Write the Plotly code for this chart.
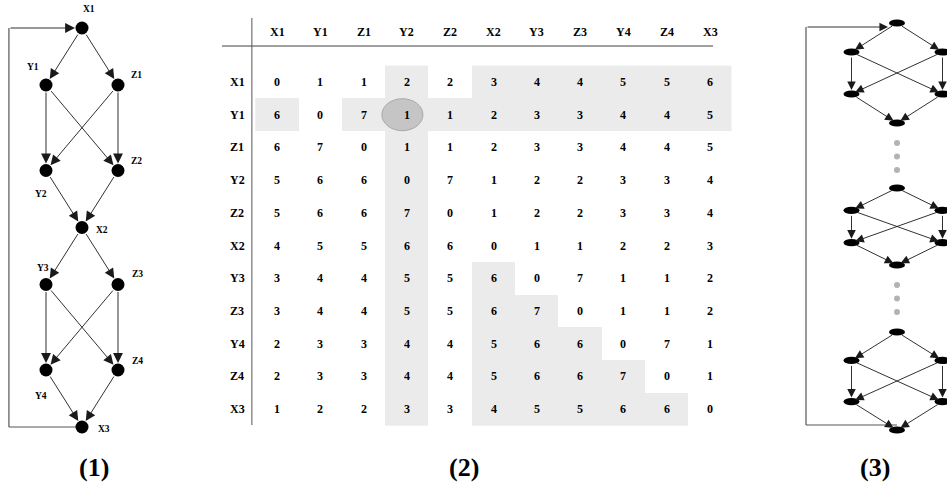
import plotly.graph_objects as go

W, H = 947, 496
SERIF = "Liberation Serif"

# ---------------- panel (1): labelled lattice with feedback loop ----------------
g1_names = ["X1", "Y1", "Z1", "Y2", "Z2", "X2", "Y3", "Z3", "Y4", "Z4", "X3"]
g1_lane = [0, -1, 1, -1, 1, 0, -1, 1, -1, 1, 0]
g1_depth = [0, 1, 1, 2.5, 2.5, 3.5, 4.5, 4.5, 6, 6, 7]
g1_edges = [("X1", "Y1"), ("X1", "Z1"), ("Y1", "Y2"), ("Y1", "Z2"), ("Z1", "Y2"), ("Z1", "Z2"),
            ("Y2", "X2"), ("Z2", "X2"), ("X2", "Y3"), ("X2", "Z3"), ("Y3", "Y4"), ("Y3", "Z4"),
            ("Z3", "Y4"), ("Z3", "Z4"), ("Y4", "X3"), ("Z4", "X3")]
# label offsets (px) relative to each node
g1_label_dx = [7, -13, 18, -5, 18, 20, -3, 19, -5, 19, 22]
g1_label_dy = [-19, -18, -10, 23, -10, 2, -17, -11, 26, -9, 2]

# ---------------- panel (2): distance matrix ----------------
nodes = ["X1", "Y1", "Z1", "Y2", "Z2", "X2", "Y3", "Z3", "Y4", "Z4", "X3"]
dist = [
    [0, 1, 1, 2, 2, 3, 4, 4, 5, 5, 6],
    [6, 0, 7, 1, 1, 2, 3, 3, 4, 4, 5],
    [6, 7, 0, 1, 1, 2, 3, 3, 4, 4, 5],
    [5, 6, 6, 0, 7, 1, 2, 2, 3, 3, 4],
    [5, 6, 6, 7, 0, 1, 2, 2, 3, 3, 4],
    [4, 5, 5, 6, 6, 0, 1, 1, 2, 2, 3],
    [3, 4, 4, 5, 5, 6, 0, 7, 1, 1, 2],
    [3, 4, 4, 5, 5, 6, 7, 0, 1, 1, 2],
    [2, 3, 3, 4, 4, 5, 6, 6, 0, 7, 1],
    [2, 3, 3, 4, 4, 5, 6, 6, 7, 0, 1],
    [1, 2, 2, 3, 3, 4, 5, 5, 6, 6, 0],
]
shaded = [
    [0, 0, 0, 1, 0, 1, 1, 1, 1, 1, 1],
    [1, 0, 1, 1, 1, 1, 1, 1, 1, 1, 1],
    [0, 0, 0, 1, 0, 0, 0, 0, 0, 0, 0],
    [0, 0, 0, 1, 0, 0, 0, 0, 0, 0, 0],
    [0, 0, 0, 1, 0, 0, 0, 0, 0, 0, 0],
    [0, 0, 0, 1, 0, 0, 0, 0, 0, 0, 0],
    [0, 0, 0, 1, 0, 1, 0, 0, 0, 0, 0],
    [0, 0, 0, 1, 0, 1, 1, 0, 0, 0, 0],
    [0, 0, 0, 1, 0, 1, 1, 1, 0, 0, 0],
    [0, 0, 0, 1, 0, 1, 1, 1, 1, 0, 0],
    [0, 0, 0, 1, 0, 1, 1, 1, 1, 1, 0],
]
highlight = ("Y1", "Y2")  # (row, column)

# ---------------- panel (3): generic stacked lattice ----------------
blk_lane = [0, -1, 1, -1, 1, 0]
blk_frac = [0, 0.29, 0.29, 0.71, 0.71, 1.0]
blk_edges = [(0, 1), (0, 2), (1, 3), (1, 4), (2, 3), (2, 4), (3, 5), (4, 5)]
blk_start = [0.0, 1.65, 3.09]
blk_height = [1.0, 0.77, 0.98]
gap_dots = [0.2, 0.335, 0.47]

captions = ["(1)", "(2)", "(3)"]


def span(origin_px, unit_px, total_px, reverse=False):
    r = [-origin_px / unit_px, (total_px - origin_px) / unit_px]
    return r[::-1] if reverse else r


fig = go.Figure()
shapes, annots = [], []
EDGE = "#1a1a1a"
LOOP = "#555555"

# ---- panel 1 ----
pos1 = {n: (l, d) for n, l, d in zip(g1_names, g1_lane, g1_depth)}
fig.add_trace(go.Scatter(x=g1_lane, y=g1_depth, mode="markers", xaxis="x", yaxis="y",
                         marker=dict(size=13, color="black", line=dict(width=0)),
                         hoverinfo="skip", showlegend=False))
for a, b in g1_edges:
    (xa, ya), (xb, yb) = pos1[a], pos1[b]
    annots.append(dict(x=xb, y=yb, ax=xa, ay=ya, xref="x", yref="y", axref="x", ayref="y",
                       text="", showarrow=True, arrowhead=2, arrowsize=2.2, arrowwidth=0.9,
                       arrowcolor=EDGE, standoff=7, startstandoff=6))
for n, dx, dy in zip(g1_names, g1_label_dx, g1_label_dy):
    l, d = pos1[n]
    annots.append(dict(x=l, y=d, xref="x", yref="y", text=f"<b>{n}</b>", showarrow=False,
                       xshift=dx, yshift=-dy, font=dict(family=SERIF, size=9.5, color="black")))
loop1 = -2.03
top1, bot1 = pos1["X1"], pos1["X3"]
shapes.append(dict(type="line", xref="x", yref="y", x0=bot1[0], y0=bot1[1], x1=loop1, y1=bot1[1],
                   line=dict(color=LOOP, width=1.2), layer="below"))
shapes.append(dict(type="line", xref="x", yref="y", x0=loop1, y0=bot1[1], x1=loop1, y1=top1[1],
                   line=dict(color=LOOP, width=1.2), layer="below"))
annots.append(dict(x=top1[0], y=top1[1], ax=loop1, ay=top1[1], xref="x", yref="y", axref="x",
                   ayref="y", text="", showarrow=True, arrowhead=2, arrowsize=2.2, arrowwidth=0.9,
                   arrowcolor=EDGE, standoff=7))

# ---- panel 2 ----
n = len(nodes)
fig.add_trace(go.Heatmap(z=shaded, x=list(range(n)), y=list(range(n)), xaxis="x2", yaxis="y2",
                         colorscale=[[0, "rgba(255,255,255,0)"], [1, "#ebebeb"]], zmin=0, zmax=1,
                         showscale=False, hoverinfo="skip"))
CELL_FONT = dict(family=SERIF, size=12, color="black")
for i in range(n):
    for j in range(n):
        annots.append(dict(x=j, y=i, xref="x2", yref="y2", text=f"<b>{dist[i][j]}</b>",
                           showarrow=False, font=CELL_FONT))
for j, c in enumerate(nodes):
    annots.append(dict(x=j, y=-1.53, xref="x2", yref="y2", text=f"<b>{c}</b>", showarrow=False,
                       font=CELL_FONT))
for i, r in enumerate(nodes):
    annots.append(dict(x=-0.92, y=i, xref="x2", yref="y2", text=f"<b>{r}</b>", showarrow=False,
                       font=CELL_FONT))
hr, hc = nodes.index(highlight[0]), nodes.index(highlight[1])
shapes.append(dict(type="circle", xref="x2", yref="y2", xsizemode="pixel", ysizemode="pixel",
                   xanchor=hc, yanchor=hr, x0=-25, x1=16, y0=-16, y1=16,
                   fillcolor="#c5c5c5", line=dict(color="#a8a8a8", width=1), layer="above"))
shapes.append(dict(type="line", xref="x2", yref="y2", x0=-1.27, x1=10.07, y0=-1.1, y1=-1.1,
                   line=dict(color="#444444", width=1)))
shapes.append(dict(type="line", xref="x2", yref="y2", x0=-0.58, x1=-0.58, y0=-1.96, y1=10.49,
                   line=dict(color="#555555", width=1)))

# ---- panel 3 ----
dot_y = []
tops, bottoms = [], []
for b, (s, h) in enumerate(zip(blk_start, blk_height)):
    ys = [s + f * h for f in blk_frac]
    tops.append(ys[0])
    bottoms.append(ys[-1])
    for p, q in blk_edges:
        annots.append(dict(x=blk_lane[q], y=ys[q], ax=blk_lane[p], ay=ys[p], xref="x3", yref="y3",
                           axref="x3", ayref="y3", text="", showarrow=True, arrowhead=2,
                           arrowsize=1.9, arrowwidth=0.9, arrowcolor=EDGE, standoff=4,
                           startstandoff=4))
    for l, y in zip(blk_lane, ys):
        shapes.append(dict(type="circle", xref="x3", yref="y3", xsizemode="pixel",
                           ysizemode="pixel", xanchor=l, yanchor=y, x0=-8, x1=8, y0=-3.6, y1=3.6,
                           fillcolor="black", line=dict(width=0)))
    if b < len(blk_start) - 1:
        dot_y += [ys[-1] + g for g in gap_dots]
fig.add_trace(go.Scatter(x=[0] * len(dot_y), y=dot_y, mode="markers", xaxis="x3", yaxis="y3",
                         marker=dict(size=6, color="#b3b3b3"), hoverinfo="skip",
                         showlegend=False))
loop3 = -2.0
shapes.append(dict(type="line", xref="x3", yref="y3", x0=0, y0=bottoms[-1] - 0.05, x1=loop3,
                   y1=bottoms[-1] - 0.05, line=dict(color=LOOP, width=1.2), layer="below"))
shapes.append(dict(type="line", xref="x3", yref="y3", x0=loop3, y0=bottoms[-1] - 0.05,
                   x1=loop3, y1=tops[0] + 0.04, line=dict(color=LOOP, width=1.2),
                   layer="below"))
annots.append(dict(x=0, y=tops[0] + 0.04, ax=loop3, ay=tops[0] + 0.04, xref="x3", yref="y3",
                   axref="x3", ayref="y3", text="", showarrow=True, arrowhead=2, arrowsize=1.9,
                   arrowwidth=0.9, arrowcolor=EDGE, standoff=9))

# ---- captions ----
for cx, t in zip([77, 464, 892], captions):
    annots.append(dict(x=cx / W, y=1 - 484 / H, xref="paper", yref="paper", text=f"<b>{t}</b>",
                       showarrow=False, font=dict(family=SERIF, size=26, color="black")))

hidden = dict(visible=False, fixedrange=True, domain=[0, 1])
fig.update_layout(
    width=W, height=H, margin=dict(l=0, r=0, t=0, b=0),
    paper_bgcolor="white", plot_bgcolor="rgba(0,0,0,0)", showlegend=False,
    xaxis=dict(hidden, range=span(82, 36, W), anchor="y"),
    yaxis=dict(hidden, range=span(28, 57, H, reverse=True), anchor="x"),
    xaxis2=dict(hidden, range=span(277, 43.3, W), anchor="y2"),
    yaxis2=dict(hidden, range=span(82, 32.7, H, reverse=True), anchor="x2"),
    xaxis3=dict(hidden, range=span(897, 45.5, W), anchor="y3"),
    yaxis3=dict(hidden, range=span(23, 100, H, reverse=True), anchor="x3"),
    shapes=shapes, annotations=annots,
)

fig.write_html("out.html")
